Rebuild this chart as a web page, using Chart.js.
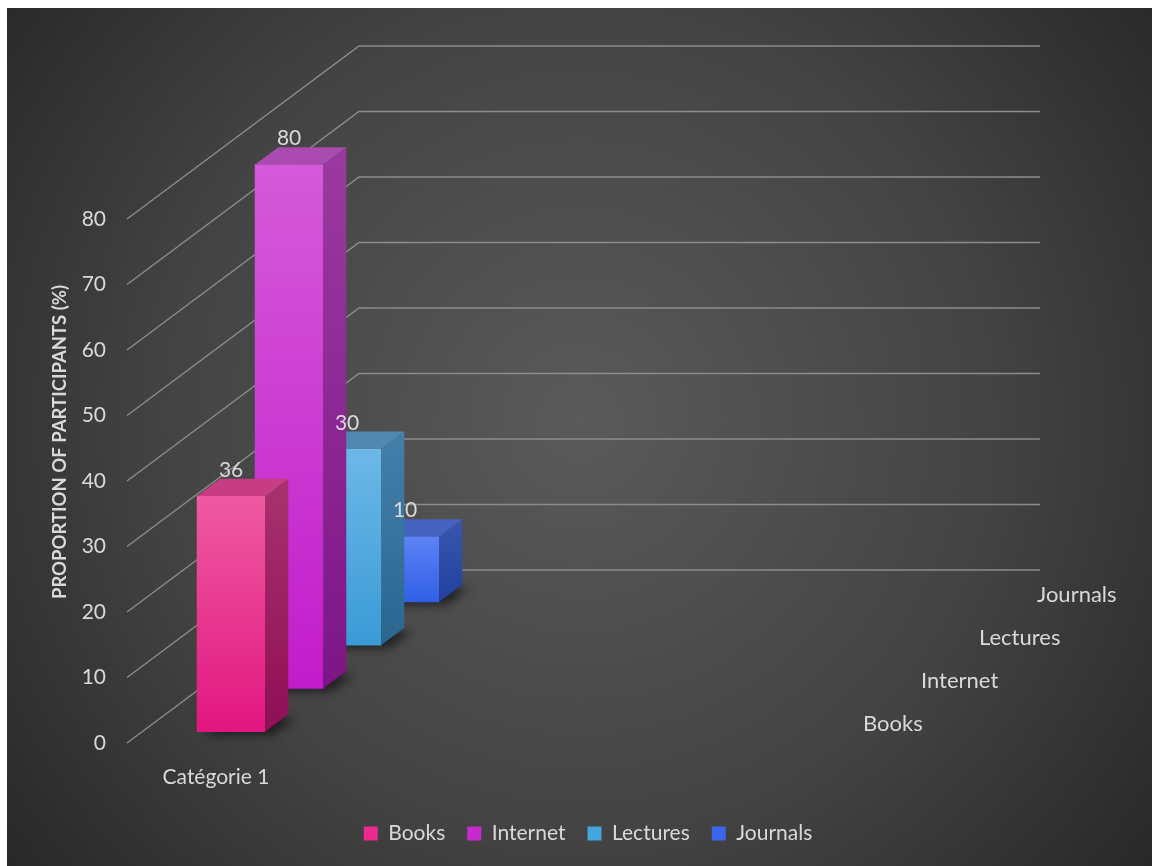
<!DOCTYPE html>
<html>
<head>
<meta charset="utf-8">
<script src="https://cdn.jsdelivr.net/npm/chart.js@4.4.1/dist/chart.umd.min.js"></script>
<style>
  html, body { margin: 0; padding: 0; background: #fff; }
  #wrap { width: 1152px; height: 866px; }
</style>
</head>
<body>
<div id="wrap"><canvas id="chart" width="1152" height="866"></canvas></div>
<script>
// chart data
const categories = ['Catégorie 1'];
const seriesNames = ['Books', 'Internet', 'Lectures', 'Journals'];
const booksValues = [36];
const internetValues = [80];
const lecturesValues = [30];
const journalsValues = [10];
const yMin = 0;
const yMax = 80;
const yStep = 10;
const yTitle = 'PROPORTION OF PARTICIPANTS (%)';

// colours per series: front top / front bottom / side top / side bottom / top face / legend
const frontTop = ['#ef5aa2', '#d55ad9', '#6cb8e8', '#5d84f6'];
const frontBottom = ['#e2167f', '#c21ccb', '#3a9bd6', '#2f5fe5'];
const sideTop = ['#a8326e', '#9a3aa0', '#4580aa', '#3a56b0'];
const sideBottom = ['#8e0f55', '#7e1586', '#2a6690', '#22409c'];
const topFace = ['#c63d84', '#a94bb0', '#4f89b2', '#4562bf'];
const legendColors = ['#ea2a8e', '#c92ad0', '#45a6dd', '#3a66ec'];

// fake 3d geometry (px)
const depthStep = { x: 58, y: 43.25 };
const barGap = 0.26;
const barDepth = 0.4;
const floorWidth = 681;
const textColor = '#d9d9d9';
const fontFamily = 'Lato, "Open Sans", sans-serif';

Chart.defaults.font.family = fontFamily;

function offsetFor(i) {
    return { x: (i + barGap) * depthStep.x, y: -(i + barGap) * depthStep.y };
}

function frontGradient(i) {
    return (c) => {
        const y = c.chart.scales.y;
        if (!y || c.raw === undefined) return frontBottom[i];
        const g = c.chart.ctx.createLinearGradient(0, y.getPixelForValue(c.raw), 0, y.getPixelForValue(0));
        g.addColorStop(0, frontTop[i]);
        g.addColorStop(1, frontBottom[i]);
        return g;
    };
}

const threeD = {
    id: 'threeD',
    beforeDraw(chart) {
        const ctx = chart.ctx;
        ctx.save();
        ctx.fillStyle = '#ffffff';
        ctx.fillRect(0, 0, chart.width, chart.height);
        const g = ctx.createRadialGradient(580, 420, 0, 580, 420, 760);
        g.addColorStop(0, '#5a5a5a');
        g.addColorStop(0.55, '#434343');
        g.addColorStop(1, '#252525');
        ctx.fillStyle = g;
        ctx.fillRect(7, 8, chart.width - 7, chart.height - 8);
        ctx.restore();
    },
    beforeDatasetsDraw(chart) {
        // gridlines: side wall diagonal + back wall horizontal
        const ctx = chart.ctx;
        const y = chart.scales.y;
        const left = chart.chartArea.left;
        const dx = depthStep.x * seriesNames.length;
        const dy = depthStep.y * seriesNames.length;
        ctx.save();
        ctx.strokeStyle = '#8c8c8c';
        ctx.lineWidth = 1.4;
        for (let v = yMin; v <= yMax; v += yStep) {
            const py = y.getPixelForValue(v);
            ctx.beginPath();
            ctx.moveTo(left, py);
            ctx.lineTo(left + dx, py - dy);
            ctx.lineTo(left + dx + floorWidth, py - dy);
            ctx.stroke();
        }
        // axis title, sits a bit above the axis middle like the excel original
        ctx.fillStyle = textColor;
        ctx.font = 'bold 18.5px ' + fontFamily;
        ctx.textAlign = 'center';
        ctx.textBaseline = 'middle';
        ctx.translate(60, 442);
        ctx.rotate(-Math.PI / 2);
        ctx.fillText(yTitle, 0, 0);
        ctx.restore();
    },
    beforeDatasetDraw(chart, args) {
        const ctx = chart.ctx;
        const o = offsetFor(args.index);
        const sx = depthStep.x * barDepth;
        const sy = depthStep.y * barDepth;
        ctx.save();
        ctx.translate(o.x, o.y);
        // soft shadow on the floor
        args.meta.data.forEach((el) => {
            const l = el.x - el.width / 2;
            const r = el.x + el.width / 2;
            const b = el.base;
            ctx.save();
            ctx.shadowColor = 'rgba(0,0,0,0.8)';
            ctx.shadowBlur = 10;
            ctx.shadowOffsetX = 8;
            ctx.shadowOffsetY = 3;
            ctx.fillStyle = 'rgba(0,0,0,0.7)';
            ctx.beginPath();
            ctx.moveTo(l, b);
            ctx.lineTo(r, b);
            ctx.lineTo(r + sx, b - sy);
            ctx.lineTo(l + sx, b - sy);
            ctx.closePath();
            ctx.fill();
            ctx.restore();
        });
    },
    afterDatasetDraw(chart, args) {
        const ctx = chart.ctx;
        const i = args.index;
        const sx = depthStep.x * barDepth;
        const sy = depthStep.y * barDepth;
        args.meta.data.forEach((el) => {
            const l = el.x - el.width / 2;
            const r = el.x + el.width / 2;
            const t = el.y;
            const b = el.base;
            // side face
            const g = ctx.createLinearGradient(0, t - sy, 0, b);
            g.addColorStop(0, sideTop[i]);
            g.addColorStop(1, sideBottom[i]);
            ctx.fillStyle = g;
            ctx.beginPath();
            ctx.moveTo(r, t);
            ctx.lineTo(r + sx, t - sy);
            ctx.lineTo(r + sx, b - sy);
            ctx.lineTo(r, b);
            ctx.closePath();
            ctx.fill();
            // top face
            ctx.fillStyle = topFace[i];
            ctx.beginPath();
            ctx.moveTo(l, t);
            ctx.lineTo(l + sx, t - sy);
            ctx.lineTo(r + sx, t - sy);
            ctx.lineTo(r, t);
            ctx.closePath();
            ctx.fill();
        });
        ctx.restore();
    },
    afterDatasetsDraw(chart) {
        const ctx = chart.ctx;
        const sy = depthStep.y * barDepth;
        ctx.save();
        ctx.fillStyle = textColor;
        // value labels above each bar
        ctx.font = '21px ' + fontFamily;
        ctx.textAlign = 'center';
        ctx.textBaseline = 'bottom';
        chart.data.datasets.forEach((ds, i) => {
            const o = offsetFor(i);
            chart.getDatasetMeta(i).data.forEach((el, j) => {
                ctx.fillText(String(ds.data[j]), el.x + o.x, el.y + o.y - sy + 2);
            });
        });
        // series names along the depth axis
        ctx.font = '22px ' + fontFamily;
        ctx.textAlign = 'left';
        ctx.textBaseline = 'middle';
        const base = chart.scales.y.getPixelForValue(0);
        const right = chart.chartArea.left + floorWidth + 26;
        seriesNames.forEach((name, i) => {
            ctx.fillText(name, right + (i + 0.5) * depthStep.x, base - (i + 0.5) * depthStep.y + 3);
        });
        ctx.restore();
    }
};

const seriesValues = [booksValues, internetValues, lecturesValues, journalsValues];

new Chart(document.getElementById('chart'), {
    type: 'bar',
    data: {
        labels: categories,
        datasets: seriesNames.map((name, i) => ({
            label: name,
            data: seriesValues[i],
            backgroundColor: frontGradient(i),
            borderWidth: 0,
            barThickness: 68,
            grouped: false,
            clip: false
        }))
    },
    options: {
        responsive: false,
        animation: false,
        devicePixelRatio: 1,
        layout: { padding: { top: 219, bottom: 12, left: 24, right: 0 } },
        plugins: {
            tooltip: { enabled: false },
            legend: {
                position: 'bottom',
                labels: {
                    color: textColor,
                    font: { size: 21 },
                    boxWidth: 14,
                    boxHeight: 14,
                    padding: 22,
                    generateLabels: (chart) => chart.data.datasets.map((ds, i) => ({
                        text: ds.label,
                        fillStyle: legendColors[i],
                        strokeStyle: legendColors[i],
                        lineWidth: 0,
                        fontColor: textColor,
                        datasetIndex: i,
                        hidden: false
                    }))
                }
            }
        },
        scales: {
            x: {
                grid: { display: false, drawTicks: false },
                border: { display: false },
                ticks: { color: textColor, font: { size: 21 }, padding: 22 },
                afterFit: (s) => { s.height = 58; }
            },
            y: {
                min: yMin,
                max: yMax,
                grid: { display: false, drawTicks: false },
                border: { display: false },
                ticks: { stepSize: yStep, color: textColor, font: { size: 21 }, padding: 21 },
                title: { display: false },
                afterFit: (s) => { s.width = 103; }
            },
            pad: {
                position: 'right',
                type: 'linear',
                grid: { display: false, drawTicks: false },
                border: { display: false },
                ticks: { display: false },
                afterFit: (s) => { s.width = 847; }
            }
        }
    },
    plugins: [threeD]
});
</script>
</body>
</html>
